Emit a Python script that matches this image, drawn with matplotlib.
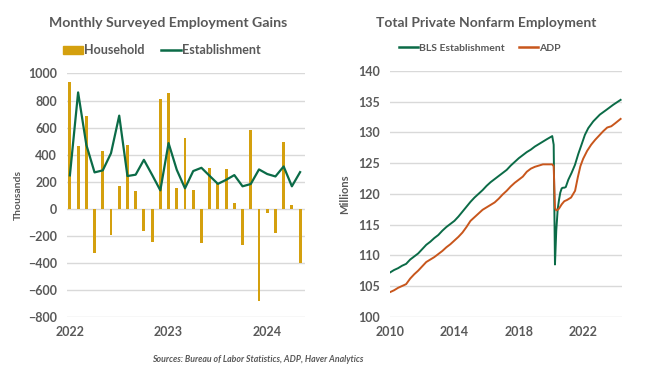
import matplotlib
matplotlib.use("Agg")
import matplotlib.pyplot as plt
from matplotlib.patches import Patch
from matplotlib.lines import Line2D

plt.rcParams["font.family"] = ["Lato", "DejaVu Sans"]

# ---- left panel: monthly gains, Jan 2022 - May 2024 (thousands)
month_idx = list(range(29))
year_ticks = [0, 12, 24]
year_labels = ["2022", "2023", "2024"]
household = [935, 464, 686, -329, 427, -198, 165, 472, 133, -163, -245, 813,
             853, 150, 523, 138, -255, 300, 190, 292, 45, -270, 585, -683,
             -31, -181, 494, 25, -404]
establishment = [246, 860, 472, 268, 283, 410, 688, 241, 251, 361, 250, 135,
                 485, 287, 150, 278, 302, 242, 183, 213, 248, 165, 182, 290,
                 256, 238, 312, 165, 270]

# ---- right panel: levels (millions), decimal years
bls_t = [2010.00, 2010.25, 2010.50, 2010.75, 2011.00, 2011.25, 2011.50, 2011.75,
         2012.00, 2012.25, 2012.50, 2012.75, 2013.00, 2013.25, 2013.50, 2013.75,
         2014.00, 2014.25, 2014.50, 2014.75, 2015.00, 2015.25, 2015.50, 2015.75,
         2016.00, 2016.25, 2016.50, 2016.75, 2017.00, 2017.25, 2017.50, 2017.75,
         2018.00, 2018.25, 2018.50, 2018.75, 2019.00, 2019.25, 2019.50, 2019.75,
         2020.08, 2020.17, 2020.25, 2020.33, 2020.42, 2020.50, 2020.58, 2020.67,
         2020.75, 2020.83, 2020.92, 2021.08, 2021.28, 2021.49, 2021.70, 2021.90,
         2022.11, 2022.32, 2022.63, 2023.04, 2023.46, 2023.87, 2024.33]
bls = [107.2, 107.6, 107.9, 108.3, 108.6, 109.3, 109.8, 110.3,
       111.0, 111.7, 112.2, 112.8, 113.3, 114.0, 114.6, 115.1,
       115.6, 116.3, 117.1, 117.9, 118.7, 119.4, 120.0, 120.6,
       121.3, 121.9, 122.4, 122.9, 123.4, 123.9, 124.6, 125.2,
       125.8, 126.3, 126.8, 127.2, 127.7, 128.1, 128.5, 128.9,
       129.4, 128.0, 108.5, 114.0, 117.5, 119.0, 120.2, 120.9,
       121.0, 121.0, 121.1, 122.3, 123.4, 124.7, 126.5, 128.0,
       129.6, 130.7, 131.8, 132.9, 133.7, 134.5, 135.3]
adp_t = [2010.00, 2010.25, 2010.50, 2010.75, 2011.00, 2011.25, 2011.50, 2011.75,
         2012.00, 2012.25, 2012.50, 2012.75, 2013.00, 2013.25, 2013.50, 2013.75,
         2014.00, 2014.25, 2014.50, 2014.75, 2015.00, 2015.25, 2015.50, 2015.75,
         2016.00, 2016.25, 2016.50, 2016.75, 2017.00, 2017.25, 2017.50, 2017.75,
         2018.00, 2018.25, 2018.50, 2018.75, 2019.00, 2019.25, 2019.50, 2019.75,
         2020.08, 2020.17, 2020.25, 2020.33, 2020.42, 2020.50, 2020.67, 2020.83,
         2021.00, 2021.25, 2021.50, 2021.67, 2021.83, 2022.00, 2022.25, 2022.50,
         2022.75, 2023.00, 2023.25, 2023.50, 2023.75, 2024.00, 2024.33]
adp = [104.0, 104.3, 104.7, 105.0, 105.3, 106.2, 106.9, 107.5,
       108.2, 108.9, 109.3, 109.7, 110.2, 110.7, 111.3, 111.8,
       112.4, 113.0, 113.7, 114.6, 115.6, 116.2, 116.8, 117.4,
       117.8, 118.2, 118.6, 119.2, 119.9, 120.5, 121.2, 121.8,
       122.3, 122.8, 123.6, 124.1, 124.4, 124.6, 124.8, 124.8,
       124.8, 124.5, 117.7, 117.3, 117.4, 117.6, 118.3, 118.8,
       119.0, 119.4, 120.5, 122.7, 124.5, 125.7, 127.0, 128.0,
       128.8, 129.5, 130.2, 130.8, 131.0, 131.5, 132.2]

GOLD = "#D4A00E"
GREEN = "#0B6B47"
ORANGE = "#C8561C"
GREY = "#595959"
GRID = "#D9D9D9"

fig = plt.figure(figsize=(6.49, 3.80), dpi=100)
ax1 = fig.add_axes([0.103, 0.1666, 0.367, 0.640])
ax2 = fig.add_axes([0.601, 0.1666, 0.357, 0.6466])

ax1.bar(month_idx, household, width=0.36, color=GOLD, zorder=2)
ax1.plot(month_idx, establishment, color=GREEN, lw=1.6, zorder=3)
ax1.set_xlim(-0.37, 28.6)
ax1.set_ylim(-800, 1000)
ax1.set_yticks(range(-800, 1001, 200))
ax1.set_xticks(year_ticks)
ax1.set_xticklabels(year_labels)
ax1.set_ylabel("Thousands", fontsize=7.5, color=GREY, fontweight="bold", labelpad=4)

ax2.plot(bls_t, bls, color=GREEN, lw=1.4, zorder=3)
ax2.plot(adp_t, adp, color=ORANGE, lw=1.4, zorder=3)
ax2.set_xlim(2010, 2024.4)
ax2.set_ylim(100, 140)
ax2.set_yticks(range(100, 141, 5))
ax2.set_xticks([2010, 2014, 2018, 2022])
ax2.set_xticklabels(["2010", "2014", "2018", "2022"])
ax2.set_ylabel("Millions", fontsize=8, color=GREY, fontweight="bold", labelpad=6)

for ax in (ax1, ax2):
    for s in ax.spines.values():
        s.set_visible(False)
    ax.grid(axis="y", color=GRID, lw=1, zorder=0)
    ax.tick_params(length=0, labelsize=9, labelcolor=GREY, pad=7)
    for lab in ax.get_xticklabels() + ax.get_yticklabels():
        lab.set_fontweight("bold")

fig.text(0.259, 1 - 23 / 380, "Monthly Surveyed Employment Gains", ha="center", va="center",
         fontsize=10.2, color=GREY, fontweight="bold")
fig.text(0.749, 1 - 23 / 380, "Total Private Nonfarm Employment", ha="center", va="center",
         fontsize=10, color=GREY, fontweight="bold")

leg1 = fig.legend([Patch(color=GOLD), Line2D([], [], color=GREEN, lw=1.8)],
                  ["Household", "Establishment"], loc="center",
                  bbox_to_anchor=(162 / 649, 1 - 50 / 380), ncol=2, frameon=False,
                  fontsize=9, handlelength=1.6, handleheight=0.6, handletextpad=0.1,
                  columnspacing=1.3, labelcolor=GREY)
leg2 = fig.legend([Line2D([], [], color=GREEN, lw=1.8), Line2D([], [], color=ORANGE, lw=1.8)],
                  ["BLS Establishment", "ADP"], loc="center",
                  bbox_to_anchor=(480 / 649, 1 - 48 / 380), ncol=2, frameon=False,
                  fontsize=7.5, handlelength=1.8, handletextpad=0.1,
                  columnspacing=1.4, labelcolor=GREY)
for t in leg1.get_texts() + leg2.get_texts():
    t.set_fontweight("bold")

fig.text(258 / 649, 1 - 359 / 380, "Sources: Bureau of Labor Statistics, ADP, Haver Analytics",
         ha="center", va="center", fontsize=6.3, color=GREY, style="italic", fontweight="bold")

fig.savefig("out.png", dpi=100)
